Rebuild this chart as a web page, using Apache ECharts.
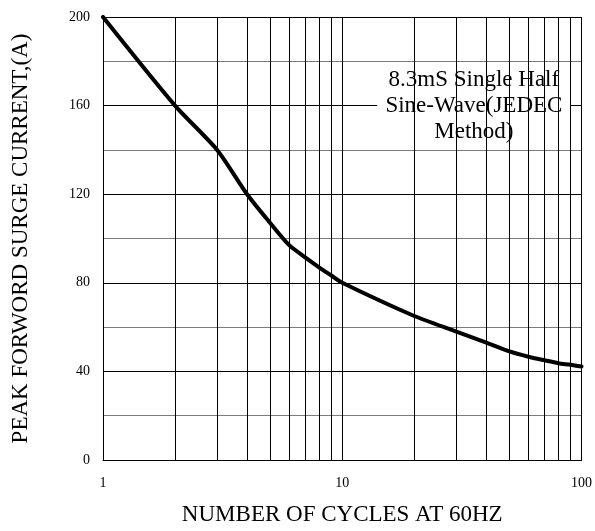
<!DOCTYPE html>
<html>
<head>
<meta charset="utf-8">
<script src="https://cdn.jsdelivr.net/npm/echarts@6/dist/echarts.min.js"></script>
<style>
html,body{margin:0;padding:0;background:#fff;overflow:hidden;}
#chart{width:595px;height:531px;}
</style>
</head>
<body>
<div id="chart"></div>
<script>
// Data
const cycles  = [1, 2, 3, 4, 5, 6, 7, 8, 9, 10, 20, 30, 40, 50, 60, 70, 80, 90, 100];
const current = [200, 160, 140, 120, 107, 97, 91.5, 87, 83.3, 80, 65, 58, 53, 49, 46.6, 45, 43.7, 43, 42.2];
const verticalGrid = [2, 3, 4, 5, 6, 7, 8, 9, 10, 20, 30, 40, 50, 60, 70, 80, 90, 100];
const noteText = '8.3mS Single Half\nSine-Wave(JEDEC\nMethod)';
const noteX = [14, 90];
const noteY = [141, 179];
const xName = 'NUMBER OF CYCLES AT 60HZ';
const yName = 'PEAK FORWORD SURGE CURRENT,(A)';

const serif = 'Liberation Serif';
const chart = echarts.init(document.getElementById('chart'), null, {renderer: 'canvas', width: 595, height: 531});
chart.setOption({
  animation: false,
  backgroundColor: '#fff',
  grid: {left: 103, right: 9, top: 17, bottom: 69, containLabel: false},
  xAxis: {
    type: 'log', logBase: 10, min: 1, max: 100,
    name: xName, nameLocation: 'middle', nameGap: 43,
    nameTextStyle: {fontFamily: serif, fontSize: 23, color: '#000'},
    axisLine: {show: true, lineStyle: {color: '#000', width: 1}},
    axisTick: {show: false},
    axisLabel: {fontFamily: serif, fontSize: 14, color: '#000', margin: 16},
    splitLine: {show: false},
    minorTick: {show: false},
    minorSplitLine: {show: false}
  },
  yAxis: {
    type: 'value', min: 0, max: 200, interval: 20,
    name: yName, nameLocation: 'middle', nameGap: 71,
    nameTextStyle: {fontFamily: serif, fontSize: 23, color: '#000'},
    axisLine: {show: true, lineStyle: {color: '#000', width: 1}},
    axisTick: {show: false},
    axisLabel: {
      fontFamily: serif, fontSize: 14, color: '#000', margin: 13,
      formatter: v => (v % 40 === 0 ? String(v) : '')
    },
    splitLine: {show: true, lineStyle: {color: ['#000', '#7a7a7a'], width: 1}}
  },
  series: [
    {
      type: 'line', z: 1, data: [], silent: true,
      markLine: {
        silent: true, symbol: 'none', animation: false,
        label: {show: false},
        lineStyle: {color: '#000', width: 1, type: 'solid'},
        emphasis: {disabled: true},
        data: verticalGrid.map(v => ({xAxis: v}))
      }
    },
    {
      type: 'line', z: 2, data: [], silent: true,
      markArea: {
        silent: true,
        itemStyle: {color: '#fff', opacity: 1},
        label: {
          show: true, position: 'inside', formatter: noteText,
          fontFamily: serif, fontSize: 23, lineHeight: 26, color: '#000', align: 'center'
        },
        emphasis: {disabled: true},
        data: [[{xAxis: noteX[0], yAxis: noteY[0]}, {xAxis: noteX[1], yAxis: noteY[1]}]]
      }
    },
    {
      type: 'line', z: 3, silent: true,
      showSymbol: false, smooth: 0.25,
      lineStyle: {color: '#000', width: 4, cap: 'round', join: 'round'},
      data: cycles.map((c, i) => [c, current[i]])
    }
  ]
});
</script>
</body>
</html>
